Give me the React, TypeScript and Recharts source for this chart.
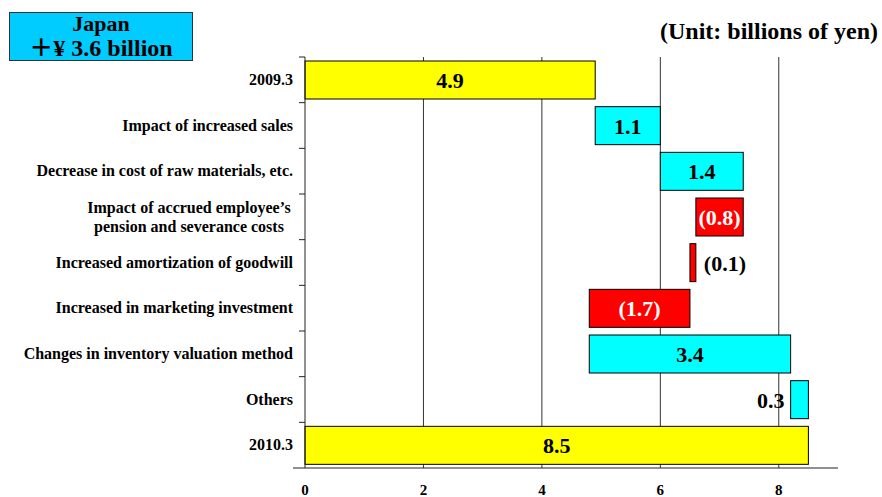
import React from 'react';
import { BarChart, Bar, XAxis, YAxis, CartesianGrid } from 'recharts';

const categories = [
  '2009.3',
  'Impact of increased sales',
  'Decrease in cost of raw materials, etc.',
  'Impact of accrued employee’s\npension and severance costs',
  'Increased amortization of goodwill',
  'Increased in marketing investment',
  'Changes in inventory valuation method',
  'Others',
  '2010.3',
];
const changes = [4.9, 1.1, 1.4, -0.8, -0.1, -1.7, 3.4, 0.3, 8.5];
const kinds = ['total', 'change', 'change', 'change', 'change', 'change', 'change', 'change', 'total'];
const valueLabels = ['4.9', '1.1', '1.4', '(0.8)', '(0.1)', '(1.7)', '3.4', '0.3', '8.5'];
const labelSides = ['inside', 'inside', 'inside', 'inside', 'right', 'inside', 'inside', 'left', 'inside'];
const xTicks = [0, 2, 4, 6, 8];
const gridLines = [2, 4, 6, 8];

const FONT = '"Liberation Serif", "Times New Roman", serif';
const AXIS_X = 305;
const TOP = 57;
const BOTTOM = 468;
const X_MAX = 9;
const BAND = (BOTTOM - TOP) / categories.length;

let running = 0;
const chartData = categories.map((name, i) => {
  const v = changes[i];
  let lo: number;
  let hi: number;
  if (kinds[i] === 'total') {
    lo = 0;
    hi = v;
    running = v;
  } else {
    lo = Math.min(running, running + v);
    hi = Math.max(running, running + v);
    running = running + v;
  }
  const color = kinds[i] === 'total' ? '#FFFF00' : v >= 0 ? '#00FFFF' : '#FF0000';
  const textColor = v < 0 && labelSides[i] === 'inside' ? '#FFFFFF' : '#000000';
  return {
    name,
    range: [Math.round(lo * 10) / 10, Math.round(hi * 10) / 10],
    label: valueLabels[i],
    side: labelSides[i],
    color,
    textColor,
  };
});

// grid only at 2,4,6,8 (no line at the domain end)
const gridX = (props: any) => {
  const { xAxis, offset } = props;
  if (xAxis && typeof xAxis.scale === 'function') {
    return gridLines.map((g) => xAxis.scale(g));
  }
  return gridLines.map((g) => offset.left + (g / X_MAX) * offset.width);
};

const WaterfallBar = (props: any) => {
  const { x, y, width, height, payload } = props;
  const left = width < 0 ? x + width : x;
  const w = Math.abs(width);
  const cy = y + height / 2;
  let tx = left + w / 2;
  let anchor: 'middle' | 'start' | 'end' = 'middle';
  if (payload.side === 'right') {
    tx = left + w + 8;
    anchor = 'start';
  } else if (payload.side === 'left') {
    tx = left - 6;
    anchor = 'end';
  }
  return (
    <g>
      <rect x={left} y={y} width={w} height={height} fill={payload.color} stroke="#000" strokeWidth={1} />
      <text
        x={tx}
        y={cy + 8}
        textAnchor={anchor}
        fontFamily={FONT}
        fontWeight="bold"
        fontSize={22}
        fill={payload.textColor}
      >
        {payload.label}
      </text>
    </g>
  );
};

const CategoryTick = (props: any) => {
  const { y, payload, index } = props;
  const lines = String(payload.value).split('\n');
  const top = y - BAND / 2;
  return (
    <g>
      <line x1={AXIS_X - 6} x2={AXIS_X} y1={top} y2={top} stroke="#222" />
      {index === categories.length - 1 && (
        <line x1={AXIS_X - 12} x2={AXIS_X} y1={top + BAND} y2={top + BAND} stroke="#222" />
      )}
      {lines.length === 1 ? (
        <text x={AXIS_X - 12} y={y + 5} textAnchor="end" fontFamily={FONT} fontWeight="bold" fontSize={16} fill="#000">
          {lines[0]}
        </text>
      ) : (
        lines.map((ln, i) => (
          <text
            key={i}
            x={AXIS_X - 116}
            y={y - 4 + i * 19}
            textAnchor="middle"
            fontFamily={FONT}
            fontWeight="bold"
            fontSize={16}
            fill="#000"
          >
            {ln}
          </text>
        ))
      )}
    </g>
  );
};

const ValueTick = (props: any) => {
  const { x, y, payload } = props;
  return (
    <text x={x} y={y + 19} textAnchor="middle" fontFamily={FONT} fontWeight="bold" fontSize={15} fill="#000">
      {payload.value}
    </text>
  );
};

const App: React.FC = () => {
  return (
    <div style={{ position: 'absolute', left: 0, top: 0, width: 882, height: 497, background: '#fff', fontFamily: FONT }}>
      <div
        style={{
          position: 'absolute',
          left: 9,
          top: 12,
          width: 182,
          height: 47,
          background: '#00CCFF',
          border: '1px solid #333',
          textAlign: 'center',
          fontWeight: 'bold',
          color: '#000',
        }}
      >
        <div style={{ fontSize: 22, lineHeight: '22px', marginTop: 0 }}>Japan</div>
        <div style={{ fontSize: 24, lineHeight: '26px', fontFamily: FONT + ', "Noto Sans CJK JP"' }}>＋¥ 3.6 billion</div>
      </div>
      <div
        style={{
          position: 'absolute',
          right: 4,
          top: 18,
          fontSize: 24,
          fontWeight: 'bold',
          color: '#000',
          whiteSpace: 'nowrap',
        }}
      >
        (Unit: billions of yen)
      </div>
      <BarChart
        width={882}
        height={497}
        data={chartData}
        layout="vertical"
        margin={{ top: TOP, right: 44, bottom: 0, left: 0 }}
        barCategoryGap={4}
      >
        <CartesianGrid horizontal={false} stroke="#333" verticalCoordinatesGenerator={gridX} />
        <XAxis
          type="number"
          domain={[0, X_MAX]}
          ticks={xTicks}
          tickLine={false}
          axisLine={{ stroke: '#222' }}
          tick={<ValueTick />}
          height={29}
          interval={0}
        />
        <YAxis
          type="category"
          dataKey="name"
          width={AXIS_X}
          tickLine={false}
          axisLine={{ stroke: '#222' }}
          tick={<CategoryTick />}
          interval={0}
        />
        <Bar dataKey="range" shape={<WaterfallBar />} isAnimationActive={false} />
      </BarChart>
    </div>
  );
};

export default App;
